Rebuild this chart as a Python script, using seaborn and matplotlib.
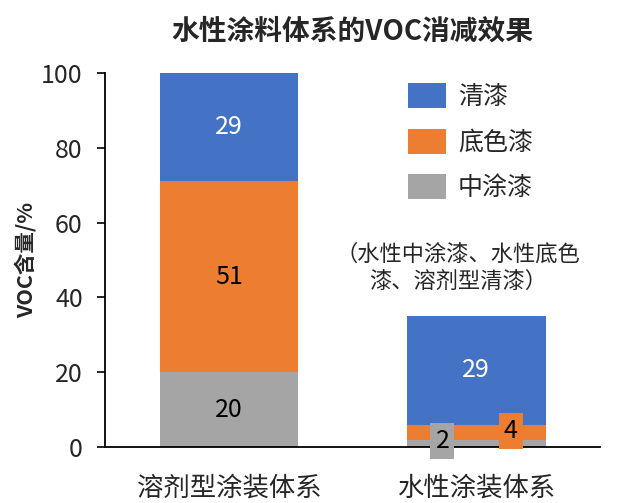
import numpy as np
import pandas as pd
import matplotlib
matplotlib.use('Agg')
import matplotlib.pyplot as plt
import seaborn as sns

# data
categories = ['溶剂型涂装体系', '水性涂装体系']
zhongtu = [20, 2]     # 中涂漆 (bottom)
dise = [51, 4]        # 底色漆 (middle)
qingqi = [29, 29]     # 清漆 (top)
series_names = ['清漆', '底色漆', '中涂漆']

blue = '#4472C4'
orange = '#ED7D31'
gray = '#A5A5A5'

sns.set_style('white')
plt.rcParams['font.family'] = ['Noto Sans CJK SC', 'DejaVu Sans']

fig = plt.figure(figsize=(6.18, 5.03), dpi=100)
ax = fig.add_axes([0.170, 0.1113, 0.801, 0.7436])

z = np.array(zhongtu)
d = np.array(dise)
q = np.array(qingqi)

# stacked bars: draw cumulative totals from the top down
df = pd.DataFrame({'cat': categories, 'top': z + d + q, 'mid': z + d, 'bot': z})
w = 0.56
sns.barplot(data=df, x='cat', y='top', color=blue, saturation=1, width=w, ax=ax, label=series_names[0], linewidth=0)
sns.barplot(data=df, x='cat', y='mid', color=orange, saturation=1, width=w, ax=ax, label=series_names[1], linewidth=0)
sns.barplot(data=df, x='cat', y='bot', color=gray, saturation=1, width=w, ax=ax, label=series_names[2], linewidth=0)

# value labels
fs = 18
for i in range(len(categories)):
    ax.text(i, z[i] + d[i] + q[i] / 2, str(q[i]), ha='center', va='center', color='white', fontsize=fs)
    if d[i] > 10:
        ax.text(i, z[i] + d[i] / 2, str(d[i]), ha='center', va='center', color='black', fontsize=fs)
        ax.text(i, z[i] / 2, str(z[i]), ha='center', va='center', color='black', fontsize=fs)
    else:
        ax.text(i - 0.137, z[i] / 2 + 0.6, str(z[i]), ha='center', va='center', color='black', fontsize=fs,
                bbox=dict(boxstyle='square,pad=0.2', fc=gray, ec='none'))
        ax.text(i + 0.139, z[i] + d[i] / 2 + 0.3, str(d[i]), ha='center', va='center', color='black', fontsize=fs,
                bbox=dict(boxstyle='square,pad=0.2', fc=orange, ec='none'))

ax.text(0.925, 48, '（水性中涂漆、水性底色\n漆、溶剂型清漆）', ha='center', va='center', fontsize=16, linespacing=1.25)

ax.set_xlim(-0.5, 1.5)
ax.set_ylim(0, 100)
ax.set_yticks([0, 20, 40, 60, 80, 100])
ax.tick_params(axis='y', length=6, width=1.2, pad=10, labelsize=fs, left=True, direction='out', color='black')
ax.tick_params(axis='x', length=0, pad=20, labelsize=19)
for s in ['top', 'right']:
    ax.spines[s].set_visible(False)
for s in ['left', 'bottom']:
    ax.spines[s].set_color('black')
    ax.spines[s].set_linewidth(1.3)

ax.set_xlabel('')
ax.set_ylabel('VOC含量/%', fontsize=15.5, fontweight='bold', labelpad=3)
ax.set_title('水性涂料体系的VOC消减效果', fontsize=20, fontweight='bold', pad=24)

handles, labels = ax.get_legend_handles_labels()
ax.legend(handles, labels, loc='upper left', bbox_to_anchor=(0.612, 0.972), frameon=False,
          fontsize=fs, borderpad=0, borderaxespad=0, handlelength=1.5, handleheight=1.15,
          handletextpad=0.5, labelspacing=0.74)

fig.savefig('out.png', dpi=100)
